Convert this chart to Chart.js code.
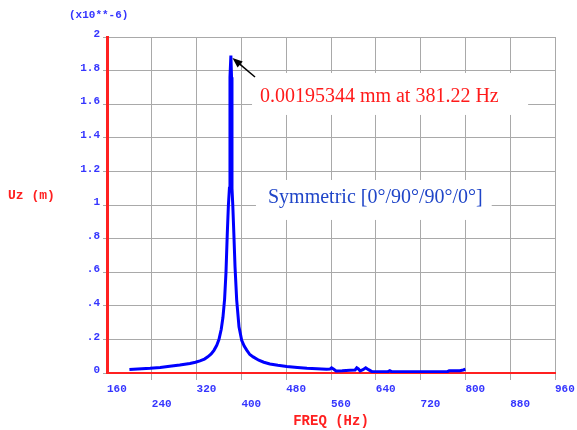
<!DOCTYPE html>
<html>
<head>
<meta charset="utf-8">
<script src="https://cdn.jsdelivr.net/npm/chart.js@4.4.1/dist/chart.umd.min.js"></script>
<style>
  html, body { margin: 0; padding: 0; background: #fff; }
  #wrap { width: 577px; height: 430px; position: relative; }
</style>
</head>
<body>
<div id="wrap"><canvas id="chart"></canvas></div>
<script>
// frequency response, Uz in units of 1e-6 m
const freqs = [200, 215, 237, 255, 272, 290, 308, 318, 326, 334, 340, 346, 351, 356, 360, 364, 367, 370,
  372.5, 374.8, 376.8, 378.6, 379.6, 381.22, 382.4, 383.2, 384.6, 386.5, 388.6, 391.6, 395.7, 400.5, 405, 409.5,
  415, 421, 431, 440, 451, 465, 481, 500, 517, 535, 552, 558, 561, 565, 569, 580, 594, 603, 606, 609,
  612, 617, 622, 627, 633, 662, 665, 668, 700, 740, 768, 771, 790, 796, 800];
const uz = [0.021, 0.024, 0.028, 0.033, 0.040, 0.047, 0.057, 0.064, 0.072, 0.083, 0.096, 0.113, 0.135,
  0.165, 0.200, 0.260, 0.330, 0.440, 0.600, 0.830, 1.000, 1.100, 1.760, 1.889, 1.760, 1.100, 1.000, 0.830,
  0.633, 0.434, 0.275, 0.195, 0.160, 0.136, 0.110, 0.096, 0.076, 0.064, 0.054, 0.046, 0.039, 0.033,
  0.028, 0.025, 0.022, 0.023, 0.031, 0.022, 0.012, 0.013, 0.016, 0.018, 0.031, 0.024, 0.012, 0.020,
  0.031, 0.020, 0.008, 0.008, 0.014, 0.008, 0.008, 0.008, 0.008, 0.013, 0.014, 0.018, 0.022];

const xTickLabels = ['160', '240', '320', '400', '480', '560', '640', '720', '800', '880', '960'];
const yTickLabels = ['0', '.2', '.4', '.6', '.8', '1', '1.2', '1.4', '1.6', '1.8', '2'];

const peakNote = '0.00195344 mm at 381.22 Hz';
const layupNote = 'Symmetric [0\u00b0/90\u00b0/90\u00b0/0\u00b0]';

const gridGray = '#a9a9a9';
const tickBlue = '#3535ff';
const axisRed = '#ff2020';

// text and boxes drawn on top of the plot
const notes = {
  id: 'notes',
  afterDraw(chart) {
    const ctx = chart.ctx;
    const x = chart.scales.x, y = chart.scales.y;
    ctx.save();

    ctx.fillStyle = '#fff';
    let x1 = x.getPixelForValue(419), x2 = x.getPixelForValue(912);
    let y1 = y.getPixelForValue(1.786), y2 = y.getPixelForValue(1.536);
    ctx.fillRect(x1, y1, x2 - x1, y2 - y1);
    x1 = x.getPixelForValue(426); x2 = x.getPixelForValue(847);
    y1 = y.getPixelForValue(1.149); y2 = y.getPixelForValue(0.911);
    ctx.fillRect(x1, y1, x2 - x1, y2 - y1);

    ctx.font = '20px "Liberation Serif", "Times New Roman", serif';
    ctx.textBaseline = 'alphabetic';
    ctx.textAlign = 'left';
    ctx.fillStyle = '#ff1a1a';
    ctx.fillText(peakNote, x.getPixelForValue(433), y.getPixelForValue(1.612));
    ctx.fillStyle = '#1f45c8';
    ctx.fillText(layupNote, x.getPixelForValue(447.5), y.getPixelForValue(1.012));

    // arrow to the peak
    const tx = x.getPixelForValue(384.1), ty = y.getPixelForValue(1.875);
    const sx = x.getPixelForValue(424.3), sy = y.getPixelForValue(1.762);
    const ang = Math.atan2(ty - sy, tx - sx);
    ctx.strokeStyle = '#000';
    ctx.fillStyle = '#000';
    ctx.lineWidth = 1.5;
    ctx.beginPath();
    ctx.moveTo(sx, sy);
    ctx.lineTo(tx - 6 * Math.cos(ang), ty - 6 * Math.sin(ang));
    ctx.stroke();
    ctx.beginPath();
    ctx.moveTo(tx, ty);
    ctx.lineTo(tx - 10 * Math.cos(ang) + 4 * Math.sin(ang), ty - 10 * Math.sin(ang) - 4 * Math.cos(ang));
    ctx.lineTo(tx - 10 * Math.cos(ang) - 4 * Math.sin(ang), ty - 10 * Math.sin(ang) + 4 * Math.cos(ang));
    ctx.closePath();
    ctx.fill();

    // exponent and y title
    ctx.font = 'bold 11px "Liberation Mono", monospace';
    ctx.fillStyle = tickBlue;
    ctx.textBaseline = 'middle';
    ctx.fillText('(x10**-6)', 69, 15.5);
    ctx.font = 'bold 13px "Liberation Mono", monospace';
    ctx.fillStyle = axisRed;
    ctx.fillText('Uz (m)', 8, y.getPixelForValue(1.055));
    ctx.restore();
  }
};

const ctx = document.getElementById('chart').getContext('2d');

const chart = new Chart(ctx, {
  type: 'line',
  data: {
    datasets: [{
      label: 'Uz',
      data: freqs.map(function(f, i) { return { x: f, y: uz[i] }; }),
      borderColor: '#0000ff',
      borderWidth: 3,
      pointRadius: 0,
      tension: 0,
      fill: false
    }]
  },
  options: {
    responsive: true,
    maintainAspectRatio: false,
    animation: false,
    layout: { padding: { top: 37, right: 22, bottom: 0, left: 0 } },
    plugins: {
      legend: { display: false },
      tooltip: { enabled: false }
    },
    scales: {
      x: {
        type: 'linear',
        min: 160,
        max: 960,
        afterFit: function(scale) {
          scale.height = 57;
          scale.paddingLeft = 0;
          scale.paddingRight = 0;
        },
        grid: {
          color: c => (c.tick && c.tick.value === 160) ? 'rgba(0,0,0,0)' : gridGray,
          tickColor: c => (c.tick && c.tick.value === 160) ? 'rgba(0,0,0,0)' : gridGray,
          lineWidth: 1,
          tickLength: 7
        },
        border: { color: axisRed, width: 2 },
        ticks: {
          stepSize: 80,
          autoSkip: false,
          maxRotation: 0,
          align: 'start',
          padding: 2,
          color: tickBlue,
          font: { family: '"Liberation Mono", monospace', size: 11, weight: 'bold', lineHeight: 1.36 },
          callback: function(value, index) {
            const t = xTickLabels[index];
            return index % 2 === 0 ? [t] : ['', t];
          }
        },
        title: {
          display: true,
          text: 'FREQ (Hz)',
          color: axisRed,
          padding: { top: 0, bottom: 0 },
          font: { family: '"Liberation Mono", monospace', size: 14, weight: 'bold', lineHeight: 1.2 }
        }
      },
      y: {
        min: 0,
        max: 2,
        afterFit: function(scale) {
          scale.width = 107;
        },
        grid: {
          color: c => (c.tick && c.tick.value === 0) ? 'rgba(0,0,0,0)' : gridGray,
          tickColor: gridGray,
          lineWidth: 1,
          tickLength: 4
        },
        border: { color: axisRed, width: 3 },
        ticks: {
          stepSize: 0.2,
          padding: 3,
          color: tickBlue,
          font: { family: '"Liberation Mono", monospace', size: 11, weight: 'bold', lineHeight: 0.45 },
          callback: function(value, index) {
            return [yTickLabels[index], ''];
          }
        }
      }
    }
  },
  plugins: [notes]
});
</script>
</body>
</html>
